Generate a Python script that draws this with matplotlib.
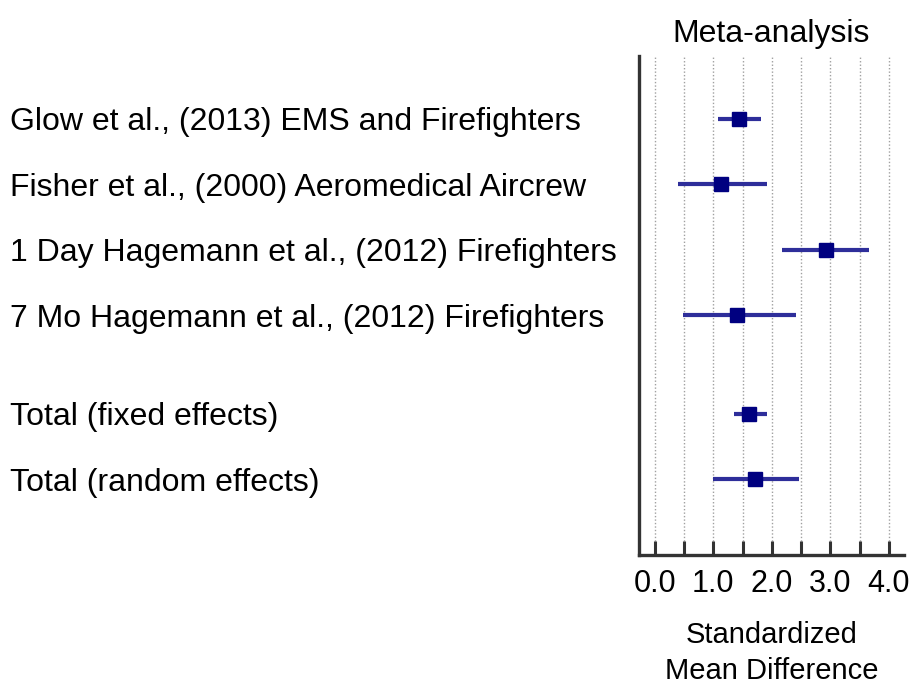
import matplotlib as mpl

mpl.use('Agg')
import matplotlib.pyplot as plt
import matplotlib.transforms as mtransforms
import numpy as np

plt.rcParams['font.family'] = ['Liberation Sans', 'DejaVu Sans']

studies = ["Glow et al., (2013) EMS and Firefighters",
           "Fisher et al., (2000) Aeromedical Aircrew",
           "1 Day Hagemann et al., (2012) Firefighters",
           "7 Mo Hagemann et al., (2012) Firefighters",
           "Total (fixed effects)",
           "Total (random effects)"]
rows = [0, 1, 2, 3, 4.5, 5.5]
smd = [1.44, 1.14, 2.92, 1.41, 1.61, 1.71]
ci_low = [1.08, 0.39, 2.17, 0.48, 1.35, 1.00]
ci_high = [1.81, 1.92, 3.67, 2.41, 1.92, 2.47]
major_ticks = [0.0, 1.0, 2.0, 3.0, 4.0]
minor_ticks = [0.5, 1.5, 2.5, 3.5]

fig = plt.figure(figsize=(9.11, 6.84), dpi=100)
ax = fig.add_axes([0.7014, 0.1886, 0.2909, 0.7295])

for t in major_ticks + minor_ticks:
    ax.axvline(t, color='#a0a0a0', linestyle=(0, (1, 1.5)), linewidth=1, zorder=0)

ax.hlines(rows, ci_low, ci_high, color='#2e2e9a', linewidth=3, zorder=2)
ax.plot(smd, rows, 's', color='#000080', markersize=9.5, zorder=3)

ax.set_xlim(-0.27, 4.26)
ax.set_ylim(6.66, -0.96)
ax.set_yticks([])
ax.set_xticks(major_ticks)
ax.set_xticks(minor_ticks, minor=True)
ax.set_xticklabels(["{0:.1f}".format(t) for t in major_ticks], fontsize=22)
ax.tick_params(axis='x', which='both', direction='in', length=10, width=2.2,
               color='#333333', pad=10)

for side in ['top', 'right']:
    ax.spines[side].set_visible(False)
for side in ['left', 'bottom']:
    ax.spines[side].set_linewidth(2.4)
    ax.spines[side].set_color('#333333')

ax.set_title("Meta-analysis", fontsize=23, pad=10)
ax.set_xlabel("Standardized\nMean Difference", fontsize=21, labelpad=16,
              linespacing=1.35)

trans = mtransforms.blended_transform_factory(fig.transFigure, ax.transData)
for name, y in zip(studies, rows):
    ax.text(10 / 911, y, name, transform=trans, fontsize=23, ha='left',
            va='center_baseline', clip_on=False)

fig.savefig("out.png", dpi=100)
